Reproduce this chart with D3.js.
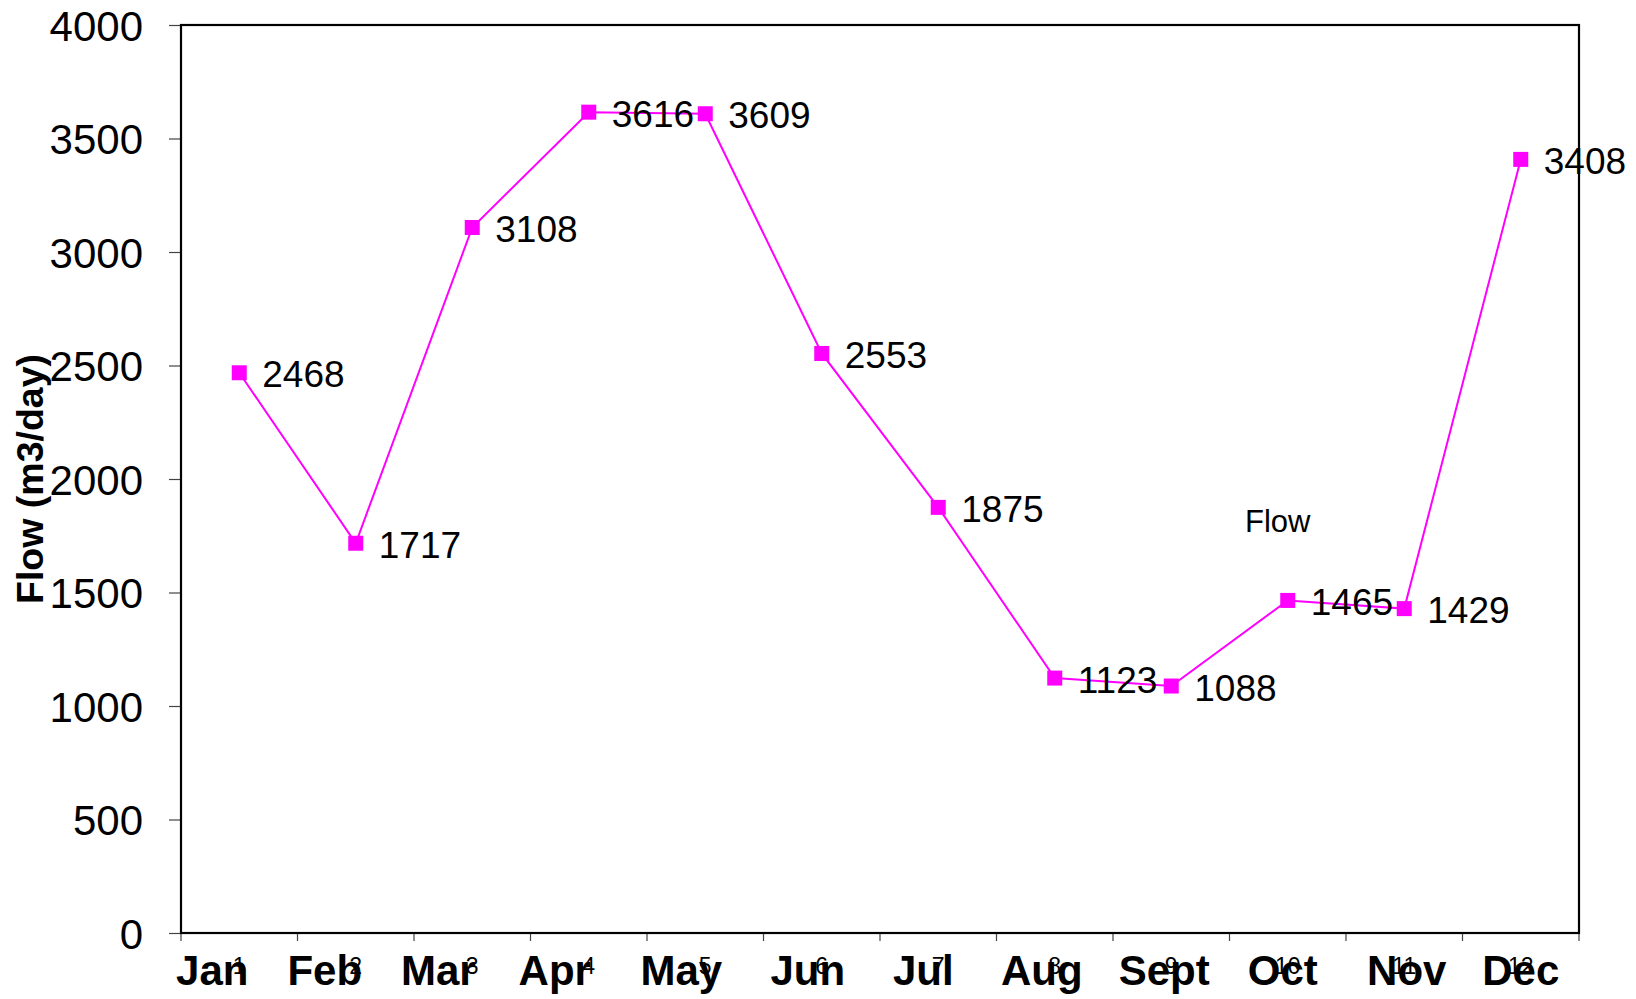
<!DOCTYPE html>
<html>
<head>
<meta charset="utf-8">
<script src="https://cdn.jsdelivr.net/npm/d3@7"></script>
<style>
  html, body { margin: 0; padding: 0; background: #fff; }
  svg { display: block; }
  text { font-family: Arial, "Liberation Sans", sans-serif; }
</style>
</head>
<body>
<svg id="chart" width="1636" height="999"></svg>
<script>
// ---- data ----
const categories = [1, 2, 3, 4, 5, 6, 7, 8, 9, 10, 11, 12];
const monthNames = ["Jan", "Feb", "Mar", "Apr", "May", "Jun", "Jul", "Aug", "Sept", "Oct", "Nov", "Dec"];
const flowValues = [2468, 1717, 3108, 3616, 3609, 2553, 1875, 1123, 1088, 1465, 1429, 3408];
const yTicks = [0, 500, 1000, 1500, 2000, 2500, 3000, 3500, 4000];
const seriesName = "Flow";
const yTitle = "Flow (m3/day)";

// ---- layout ----
const plotLeft = 181, plotRight = 1579, plotTop = 25, plotBottom = 933;
// month label horizontal offsets from band centers (as in the reference)
const monthOffset = [-27, -31, -34, -34, -24, -14, -15, -13, -7, -5, 2.5, 0];

const svg = d3.select("#chart");

const x = d3.scaleBand().domain(categories).range([plotLeft, plotRight]).padding(0);
const y = d3.scaleLinear().domain([0, 4000]).range([plotBottom, plotTop]);

// y ticks
const yAxis = d3.axisLeft(y).tickValues(yTicks).tickSize(12).tickFormat(d3.format("d"));
const gy = svg.append("g").attr("transform", `translate(${plotLeft},0)`).call(yAxis);
gy.select(".domain").remove();
gy.selectAll(".tick line").attr("stroke", "#444").attr("stroke-width", 1.2);
gy.selectAll(".tick text")
  .attr("x", -38)
  .attr("dy", null)
  .attr("y", 15)
  .attr("fill", "#000")
  .style("font-size", "42px")
  .style("font-family", "Arial, 'Liberation Sans', sans-serif")
  .attr("text-anchor", "end");

// x tick marks at band boundaries
const boundaries = categories.map(c => x(c)).concat([plotRight]);
svg.append("g").selectAll("line").data(boundaries).join("line")
  .attr("x1", d => d).attr("x2", d => d)
  .attr("y1", plotBottom).attr("y2", plotBottom + 8)
  .attr("stroke", "#444").attr("stroke-width", 1.2);

// plot frame
svg.append("rect")
  .attr("x", plotLeft).attr("y", plotTop)
  .attr("width", plotRight - plotLeft).attr("height", plotBottom - plotTop)
  .attr("fill", "none").attr("stroke", "#000").attr("stroke-width", 2.2);

const cx = d => x(d) + x.bandwidth() / 2;

// month labels (bold)
svg.append("g").selectAll("text").data(categories).join("text")
  .attr("x", (d, i) => cx(d) + monthOffset[i])
  .attr("y", 985)
  .attr("text-anchor", "middle")
  .style("font-size", "42px")
  .style("font-weight", "bold")
  .attr("fill", "#000")
  .text((d, i) => monthNames[i]);

// small category numbers
svg.append("g").selectAll("text").data(categories).join("text")
  .attr("x", d => cx(d))
  .attr("y", 974)
  .attr("text-anchor", "middle")
  .style("font-size", "23px")
  .attr("fill", "#000")
  .text(d => d);

// y title
svg.append("text")
  .attr("transform", `translate(43, 479) rotate(-90)`)
  .attr("text-anchor", "middle")
  .style("font-size", "37.5px")
  .style("font-weight", "bold")
  .attr("fill", "#000")
  .text(yTitle);

// line
const line = d3.line().x((d, i) => cx(categories[i])).y(d => y(d));
svg.append("path")
  .datum(flowValues)
  .attr("d", line)
  .attr("fill", "none")
  .attr("stroke", "#FF00FF")
  .attr("stroke-width", 2);

// markers
const ms = 15;
svg.append("g").selectAll("rect").data(flowValues).join("rect")
  .attr("x", (d, i) => cx(categories[i]) - ms / 2)
  .attr("y", d => y(d) - ms / 2)
  .attr("width", ms).attr("height", ms)
  .attr("fill", "#FF00FF");

// data labels
svg.append("g").selectAll("text").data(flowValues).join("text")
  .attr("x", (d, i) => cx(categories[i]) + 23)
  .attr("y", d => y(d) + 14.5)
  .style("font-size", "37px")
  .attr("fill", "#000")
  .text(d => d);

// series name label
svg.append("text")
  .attr("x", 1245)
  .attr("y", 532)
  .style("font-size", "31px")
  .attr("fill", "#000")
  .text(seriesName);
</script>
</body>
</html>
